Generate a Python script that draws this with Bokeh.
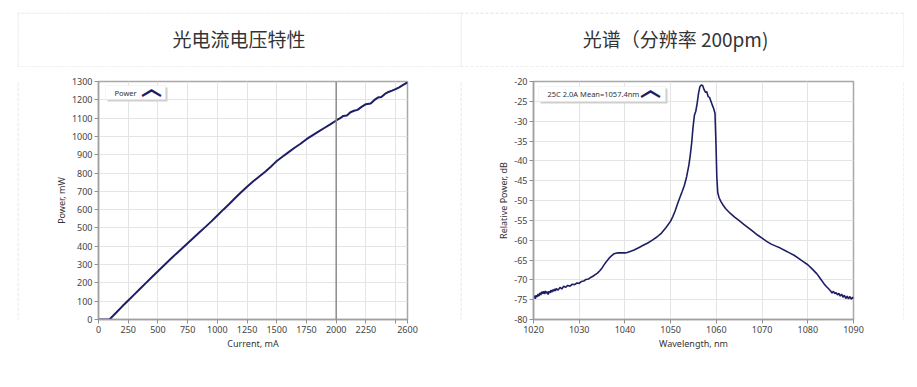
from bokeh.plotting import figure
from bokeh.layouts import row, column
from bokeh.models import Span, Label, BoxAnnotation, FixedTicker, Range1d, Spacer
from bokeh.embed import file_html
from bokeh.resources import INLINE

# ---------------- data ----------------
title_left = "光电流电压特性"
title_right = "光谱（分辨率 200pm)"

li_series_name = "Power"
li_x_label = "Current, mA"
li_y_label = "Power, mW"
li_current_ma = [0, 50, 92, 150, 200, 250, 300, 350, 400, 450,
                 500, 550, 600, 650, 700, 750, 800, 850, 900, 950,
                 1000, 1050, 1100, 1150, 1200, 1250, 1300, 1350, 1400, 1450,
                 1475, 1500, 1550, 1600, 1650, 1700, 1750, 1800, 1850, 1900,
                 1950, 2000, 2030, 2060, 2090, 2120, 2150, 2180, 2210, 2250,
                 2290, 2320, 2350, 2380, 2410, 2440, 2470, 2500, 2530, 2560,
                 2600]
li_power_mw = [0, 0, 0, 38, 72, 104, 136, 168, 200, 232,
               264, 295, 326, 357, 386, 416, 446, 476, 506, 536,
               568, 600, 631, 664, 695, 725, 754, 780, 806, 834,
               850, 866, 890, 914, 938, 960, 985, 1006, 1026, 1046,
               1066, 1087, 1098, 1112, 1114, 1132, 1140, 1145, 1160, 1176,
               1180, 1198, 1212, 1215, 1232, 1243, 1250, 1258, 1268, 1280,
               1295]
li_marker_current = 2000
li_x_ticks = [0, 250, 500, 750, 1000, 1250, 1500, 1750, 2000, 2250, 2500, 2600]
li_x_tick_labels = ["0", "250", "500", "750", "1000", "1250", "1500", "1750", "2000", "2250", "", "2600"]
li_y_ticks = [0, 100, 200, 300, 400, 500, 600, 700, 800, 900, 1000, 1100, 1200, 1300]

spec_series_name = "25C 2.0A Mean=1057.4nm"
spec_x_label = "Wavelength, nm"
spec_y_label = "Relative Power, dB"
spec_wavelength_nm = [
    1020.0, 1020.2, 1020.4, 1020.6, 1020.8, 1021.0, 1021.2, 1021.4, 1021.6, 1021.8,
    1022.0, 1022.2, 1022.4, 1022.6, 1022.8, 1023.0, 1023.2, 1023.4, 1023.6, 1023.8,
    1024.0, 1024.2, 1024.4, 1024.6, 1024.8, 1025.0, 1025.4, 1025.8, 1026.2, 1026.6,
    1027.0, 1027.5, 1028.0, 1028.5, 1029.0, 1029.5, 1030.0, 1030.5, 1031.0, 1031.5,
    1032.0, 1032.5, 1033.0, 1033.5, 1034.0, 1034.5, 1035.0, 1035.5, 1036.0, 1036.5,
    1037.0, 1037.5, 1038.0, 1038.5, 1039.0, 1039.5, 1040.0, 1040.5, 1041.0, 1042.0,
    1043.0, 1044.0, 1045.0, 1046.0, 1047.0, 1048.0, 1049.0, 1050.0, 1050.5, 1051.0,
    1051.5, 1052.0, 1052.5, 1053.0, 1053.5, 1054.0, 1054.3, 1054.6, 1054.9, 1055.2,
    1055.5, 1055.8, 1056.1, 1056.4, 1056.7, 1057.0, 1057.3, 1057.6, 1057.9, 1058.2,
    1058.5, 1058.8, 1059.1, 1059.4, 1059.7, 1059.9, 1060.1, 1060.3, 1060.6, 1061.0,
    1061.5, 1062.0, 1063.0, 1064.0, 1065.0, 1066.0, 1067.0, 1068.0, 1069.0, 1070.0,
    1071.0, 1072.0, 1073.0, 1074.0, 1075.0, 1076.0, 1077.0, 1078.0, 1079.0, 1080.0,
    1081.0, 1082.0, 1082.5, 1083.0, 1083.5, 1084.0, 1084.5, 1085.0, 1085.3, 1085.6,
    1085.9, 1086.2, 1086.5, 1086.8, 1087.1, 1087.4, 1087.7, 1088.0, 1088.3, 1088.6,
    1088.9, 1089.2, 1089.5, 1089.8, 1090.0]
spec_power_db = [
    -74.6, -74.0, -74.8, -73.9, -74.3, -73.6, -74.1, -73.3, -73.8, -73.0,
    -73.5, -72.9, -73.6, -72.8, -73.4, -73.0, -73.7, -72.9, -73.3, -72.6,
    -73.1, -72.5, -72.9, -72.3, -72.8, -72.2, -72.6, -71.9, -72.3, -71.6,
    -71.9, -71.4, -71.6, -71.1, -71.2, -70.8, -70.9, -70.4, -70.3, -69.9,
    -69.8, -69.4, -69.1, -68.7, -68.3, -67.7, -67.0, -66.1, -65.3, -64.6,
    -64.0, -63.5, -63.3, -63.2, -63.2, -63.2, -63.2, -63.1, -62.9, -62.5,
    -61.9, -61.3, -60.7, -60.0, -59.2, -58.2, -56.8, -55.2, -54.0, -52.6,
    -50.9, -49.3, -47.8, -46.2, -44.0, -41.0, -38.5, -35.5, -31.5, -28.5,
    -27.5, -25.5, -23.0, -21.3, -20.9, -21.0, -22.0, -22.7, -22.6, -23.8,
    -24.0, -24.9, -25.9, -26.8, -28.0, -35.0, -44.0, -48.0, -49.3, -50.3,
    -51.2, -52.0, -53.2, -54.2, -55.1, -56.0, -56.9, -57.8, -58.7, -59.5,
    -60.3, -61.0, -61.5, -62.0, -62.6, -63.2, -63.8, -64.6, -65.4, -66.2,
    -67.3, -68.5, -69.3, -70.1, -70.9, -71.6, -72.2, -72.8, -73.3, -72.9,
    -73.5, -73.2, -73.8, -73.4, -74.1, -73.6, -74.4, -73.9, -74.7, -74.1,
    -74.8, -74.2, -74.9, -74.4, -74.7]
spec_x_ticks = [1020, 1030, 1040, 1050, 1060, 1070, 1080, 1090]
spec_y_ticks = [-80, -75, -70, -65, -60, -55, -50, -45, -40, -35, -30, -25, -20]

# ---------------- style ----------------
FONT = "Noto Sans"
CJK = "Noto Sans CJK SC"
NAVY = "#1e1e64"
DASH = "#c4c4c4"
LEFT_TW, RIGHT_TW = 443, 444      # title cells (include their own border pixels)
STRIP = 4                          # width of the dashed-border strips
TITLE_H, CHART_H = 55, 307
SCREEN = dict(left_units="screen", right_units="screen", top_units="screen", bottom_units="screen")


def dashed_edge(p, left, right, bottom, top):
    p.add_layout(BoxAnnotation(left=left, right=right, bottom=bottom, top=top,
                               fill_alpha=0, fill_color=None, line_color=DASH,
                               line_width=1, line_dash="3 2", **SCREEN))


def bare_fig(w, h):
    f = figure(width=w, height=h, x_axis_type=None, y_axis_type=None,
               x_range=Range1d(0, 1), y_range=Range1d(0, 1), min_border=0,
               toolbar_location=None, output_backend="svg")
    f.outline_line_color = None
    f.background_fill_color = "white"
    f.border_fill_color = "white"
    return f


def vstrip(h, x):
    f = bare_fig(STRIP, h)
    dashed_edge(f, x, x, 0, h)
    return f


def hstrip(w, y):
    f = bare_fig(w, STRIP)
    dashed_edge(f, 0, w, y, y)
    return f


def style_axes(p):
    p.background_fill_color = "white"
    p.border_fill_color = "white"
    p.outline_line_color = "#a8a8a8"
    p.outline_line_width = 1.5
    for ax in p.axis:
        ax.axis_line_color = "#a0a0a0"
        ax.axis_line_width = 1.5
        ax.major_tick_line_color = "#909090"
        ax.major_tick_out = 4
        ax.major_tick_in = 0
        ax.minor_tick_line_color = None
        ax.major_label_text_font = FONT
        ax.major_label_text_font_size = "9px"
        ax.major_label_text_color = "#444444"
        ax.axis_label_text_font = FONT
        ax.axis_label_text_font_size = "9px"
        ax.axis_label_text_font_style = "normal"
        ax.axis_label_text_color = "#333333"
        ax.major_label_standoff = 2
        ax.axis_label_standoff = 1
    for g in p.grid:
        g.grid_line_color = "#e4e4e4"
        g.grid_line_width = 1


def add_legend(p, frame_h, name, left, top, width, height, text_dx, chev_dx):
    bottom = frame_h - top - height
    p.add_layout(BoxAnnotation(left=left + 2, right=left + width + 2, bottom=bottom - 2, top=bottom + height - 2,
                               fill_color="#cfcfcf", fill_alpha=1, line_color=None, **SCREEN))
    p.add_layout(BoxAnnotation(left=left, right=left + width, bottom=bottom, top=bottom + height,
                               fill_color="white", fill_alpha=1, line_color="#e2e2e2", line_width=1, **SCREEN))
    cy = bottom + height / 2
    p.add_layout(Label(x=left + text_dx, y=cy, x_units="screen", y_units="screen", text=name,
                       text_font=FONT, text_font_size="7.5px", text_color="#333333",
                       text_baseline="middle", text_align="left"))
    p.add_layout(Label(x=left + chev_dx, y=cy + 7, x_units="screen", y_units="screen", text="︿",
                       text_font=CJK, text_font_size="21px", text_font_style="bold", text_color=NAVY,
                       text_baseline="middle", text_align="center"))


def title_fig(text, w, cx, sides):
    t = bare_fig(w, TITLE_H)
    t.add_layout(Label(x=cx, y=29.5, x_units="screen", y_units="screen", text=text,
                       text_font=CJK, text_font_size="19px", text_color="#333333",
                       text_align="center", text_baseline="middle"))
    if "l" in sides:
        dashed_edge(t, 0.5, 0.5, 0, TITLE_H)
    if "r" in sides:
        dashed_edge(t, w - 0.5, w - 0.5, 0, TITLE_H)
    if "t" in sides:
        dashed_edge(t, 0, w, TITLE_H - 0.5, TITLE_H - 0.5)
    if "b" in sides:
        dashed_edge(t, 0, w, 0.5, 0.5)
    return t


# ---------------- left chart (page x 21..459) ----------------
L_W = LEFT_TW - STRIP
L_BL, L_BT, L_BB = 77, 14, 55
L_BR = L_W - L_BL - 309
p1 = figure(width=L_W, height=CHART_H, x_range=Range1d(0, 2600), y_range=Range1d(0, 1300),
            min_border_left=L_BL, min_border_right=L_BR, min_border_top=L_BT, min_border_bottom=L_BB,
            toolbar_location=None, output_backend="svg")
p1.line(li_current_ma, li_power_mw, line_color=NAVY, line_width=2)
p1.xaxis.ticker = FixedTicker(ticks=li_x_ticks)
p1.xaxis.major_label_overrides = {t: s for t, s in zip(li_x_ticks, li_x_tick_labels)}
p1.yaxis.ticker = FixedTicker(ticks=li_y_ticks)
p1.xaxis.axis_label = li_x_label
p1.yaxis.axis_label = li_y_label
style_axes(p1)
p1.add_layout(Span(location=li_marker_current, dimension="height", line_color="#8c8c8c", line_width=1.5))
add_legend(p1, CHART_H - L_BT - L_BB, li_series_name, 7, 4, 60, 14, 9, 46)

# ---------------- right chart (page x 464..899) ----------------
R_W = RIGHT_TW - 2 * STRIP
R_BL, R_BT, R_BB = 69, 14, 54
R_BR = R_W - R_BL - 320
p2 = figure(width=R_W, height=CHART_H, x_range=Range1d(1020, 1090), y_range=Range1d(-80, -20),
            min_border_left=R_BL, min_border_right=R_BR, min_border_top=R_BT, min_border_bottom=R_BB,
            toolbar_location=None, output_backend="svg")
p2.line(spec_wavelength_nm, spec_power_db, line_color=NAVY, line_width=1.6)
p2.xaxis.ticker = FixedTicker(ticks=spec_x_ticks)
p2.yaxis.ticker = FixedTicker(ticks=spec_y_ticks)
p2.yaxis.major_label_overrides = {t: str(t) for t in spec_y_ticks}
p2.xaxis.axis_label = spec_x_label
p2.yaxis.axis_label = spec_y_label
style_axes(p2)
add_legend(p2, CHART_H - R_BT - R_BB, spec_series_name, 5, 6, 127, 15, 9, 112)

t1 = title_fig(title_left, LEFT_TW, 221.5, "ltb")
t2 = title_fig(title_right, RIGHT_TW, 215, "ltrb")

total_w = LEFT_TW + RIGHT_TW
grid = column(
    row(t1, t2),
    row(vstrip(CHART_H, 0.5), p1, vstrip(CHART_H, 0.5), p2, vstrip(CHART_H, STRIP - 0.5)),
    hstrip(total_w, STRIP - 0.5),
)
layout = column(Spacer(width=10, height=12), row(Spacer(width=17, height=10), grid))

open("out.html", "w").write(file_html(layout, INLINE, "chart"))
